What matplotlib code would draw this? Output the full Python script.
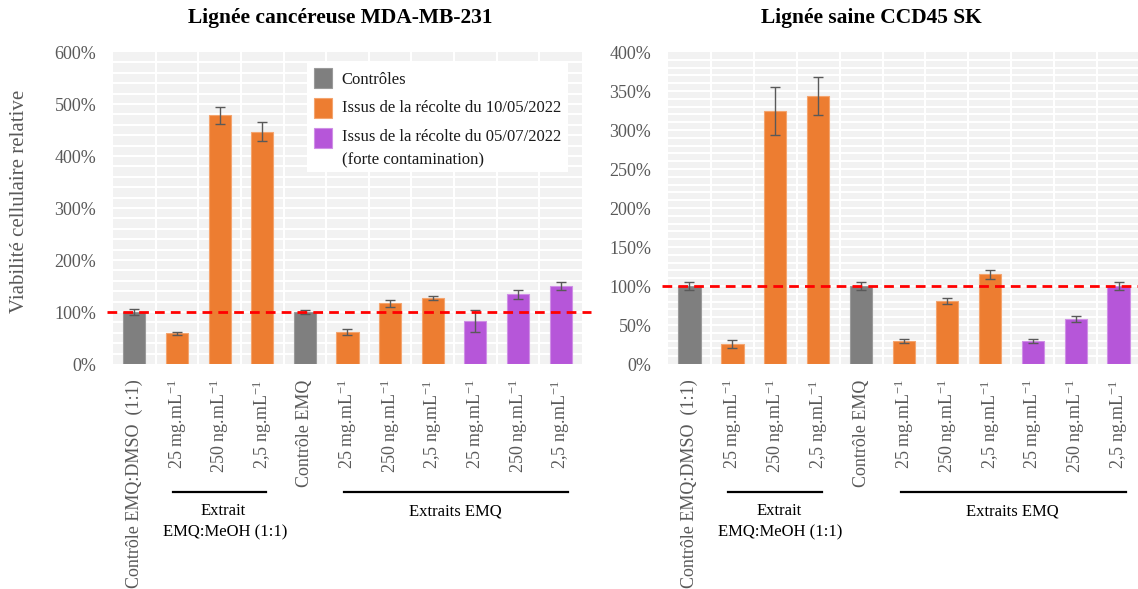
import matplotlib
matplotlib.use("Agg")
import matplotlib.pyplot as plt
from matplotlib.patches import Rectangle

plt.rcParams['font.family'] = ['Liberation Serif', 'DejaVu Serif']
plt.rcParams['mathtext.fontset'] = 'custom'
plt.rcParams['mathtext.rm'] = 'Liberation Serif'
plt.rcParams['mathtext.it'] = 'Liberation Serif:italic'

# categories (same order in both panels)
labels = ["Contrôle EMQ:DMSO  (1:1)",
          "25 mg.mL$^{-1}$", "250 ng.mL$^{-1}$", "2,5 ng.mL$^{-1}$",
          "Contrôle EMQ",
          "25 mg.mL$^{-1}$", "250 ng.mL$^{-1}$", "2,5 ng.mL$^{-1}$",
          "25 mg.mL$^{-1}$", "250 ng.mL$^{-1}$", "2,5 ng.mL$^{-1}$"]
groups = ["ctrl", "h1", "h1", "h1", "ctrl", "h1", "h1", "h1", "h2", "h2", "h2"]

# MDA-MB-231 (viabilite en %)
mda_vals = [100, 59, 478, 447, 100, 61, 117, 127, 82, 134, 150]
mda_err = [6, 3, 16, 19, 4, 6, 7, 4.5, 21, 9, 8]

# CCD45 SK
ccd_vals = [100, 25.6, 324, 343.5, 100, 29.5, 80.7, 114.8, 29.5, 57.6, 99.5]
ccd_err = [5, 5, 31, 24, 5, 3, 4, 6, 3, 4.3, 5]

legend_labels = ["Contrôles", "Issus de la récolte du 10/05/2022",
                 "Issus de la récolte du 05/07/2022", "(forte contamination)"]

colors = {"ctrl": "#7f7f7f", "h1": "#ed7d31", "h2": "#b656d9"}
edges = {"ctrl": "#9a9a9a", "h1": "#f4a46e", "h2": "#cf8fe6"}
grey_txt = "#595959"


def draw_panel(ax, vals, errs, ymax, minor_step, major_step):
    x = list(range(len(vals)))
    ax.set_facecolor("#f2f2f2")
    ax.bar(x, vals, width=0.52, color=[colors[g] for g in groups],
           edgecolor=[edges[g] for g in groups], linewidth=0.8, zorder=3)
    ax.errorbar(x, vals, yerr=errs, fmt="none", ecolor=grey_txt,
                elinewidth=1, capsize=3.6, capthick=1, zorder=4)
    ax.set_xlim(-0.5, 10.5)
    ax.set_ylim(0, ymax)
    # white grid: horizontal every minor step, vertical between categories
    y = minor_step
    while y < ymax:
        ax.axhline(y, color="white", lw=1.5, zorder=1)
        y += minor_step
    for b in range(len(vals) - 1):
        ax.axvline(b + 0.5, color="white", lw=1.5, zorder=1)
    ax.plot([-0.65, 10.72], [100, 100], color="#ff0000", lw=2,
            dashes=(3.5, 2.2), clip_on=False, zorder=5)
    ticks = list(range(0, ymax + 1, major_step))
    ax.set_yticks(ticks)
    ax.set_yticklabels([f"{t}%" for t in ticks])
    ax.set_xticks(x)
    ax.set_xticklabels(labels, rotation=90, va="top", ha="center")
    ax.tick_params(axis="both", length=0, labelsize=13, labelcolor=grey_txt)
    ax.tick_params(axis="x", pad=11)
    ax.tick_params(axis="y", pad=12)
    for s in ax.spines.values():
        s.set_visible(False)

    # group brackets under the tick labels
    tr = ax.get_xaxis_transform()
    ax.plot([0.9, 3.1], [-0.41, -0.41], color="black", lw=1.6,
            transform=tr, clip_on=False)
    ax.plot([4.92, 10.17], [-0.41, -0.41], color="black", lw=1.6,
            transform=tr, clip_on=False)
    ax.text(2.08, -0.472, "Extrait", transform=tr, ha="center",
            va="center", fontsize=12)
    ax.text(2.12, -0.54, "EMQ:MeOH (1:1)", transform=tr, ha="center",
            va="center", fontsize=12)
    ax.text(7.53, -0.472, "Extraits EMQ", transform=tr, ha="center",
            va="center", fontsize=12)


fig = plt.figure(figsize=(11.38, 5.89), dpi=100)
ax1 = fig.add_axes([0.0993, 0.382, 0.4121, 0.5297])
ax2 = fig.add_axes([0.587, 0.382, 0.4148, 0.5297])

draw_panel(ax1, mda_vals, mda_err, 600, 20, 100)
draw_panel(ax2, ccd_vals, ccd_err, 400, 10, 50)

fig.text(340 / 1138, 1 - 18 / 589, "Lignée cancéreuse MDA-MB-231",
         ha="center", va="center", fontsize=15.5, fontweight="bold")
fig.text(871 / 1138, 1 - 18 / 589, "Lignée saine CCD45 SK",
         ha="center", va="center", fontsize=15.5, fontweight="bold")
fig.text(20 / 1138, 1 - 201 / 589, "Viabilité cellulaire relative",
         rotation=90, ha="center", va="center", fontsize=15, color=grey_txt)

# legend box in the left panel
ax1.add_patch(Rectangle((0.4136, 0.615), 0.5564, 0.356, transform=ax1.transAxes,
                        facecolor="white", edgecolor="none", zorder=6,
                        clip_on=False))
sq_y = [0.9157, 0.8205, 0.7253]
for key, yc in zip(["ctrl", "h1", "h2"], sq_y):
    ax1.add_patch(Rectangle((0.4286, yc - 0.032), 0.0384, 0.064,
                            transform=ax1.transAxes, facecolor=colors[key],
                            edgecolor=edges[key], lw=0.8, zorder=7))
for lab, yc in zip(legend_labels, [0.9103, 0.8205, 0.7276, 0.6538]):
    ax1.text(0.488, yc, lab, transform=ax1.transAxes, ha="left", va="center",
             fontsize=12, color="#1a1a1a", zorder=8)

fig.savefig("out.png", dpi=100)
